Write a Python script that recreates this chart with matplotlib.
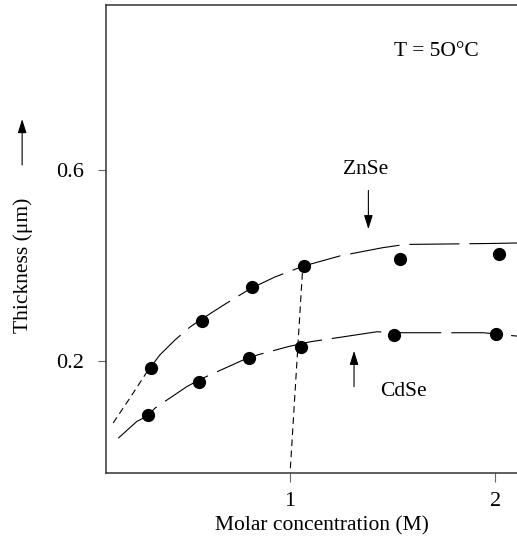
import matplotlib

matplotlib.use("Agg")
matplotlib.rc("font", family="Liberation Serif")
import matplotlib.pyplot as plt


# measured points
znse_x = [0.322, 0.572, 0.813, 1.07, 1.537, 2.018]
znse_y = [0.185, 0.284, 0.354, 0.398, 0.414, 0.423]
cdse_x = [0.306, 0.557, 0.801, 1.055, 1.507, 2.005]
cdse_y = [0.086, 0.155, 0.207, 0.230, 0.254, 0.256]

# guide curves
znse_fit_x = [0.137, 0.220, 0.302, 0.366, 0.439, 0.512, 0.585, 0.683, 0.805,
              0.927, 1.068, 1.244, 1.449, 1.561, 1.780, 1.976, 2.107]
znse_fit_y = [0.070, 0.123, 0.177, 0.213, 0.244, 0.271, 0.292, 0.319, 0.351,
              0.376, 0.399, 0.420, 0.437, 0.444, 0.445, 0.446, 0.447]
znse_dotted_end = 3  # first part is drawn with short dashes

cdse_fit_x = [0.162, 0.252, 0.306, 0.341, 0.496, 0.556, 0.601, 0.772, 0.845,
              0.992, 1.098, 1.423, 1.553, 1.943, 2.081, 2.107]
cdse_fit_y = [0.038, 0.073, 0.085, 0.101, 0.146, 0.160, 0.169, 0.202, 0.213,
              0.230, 0.240, 0.261, 0.259, 0.259, 0.253, 0.252]

# slanted drop line from the ZnSe point near 1 M
drop_x = [1.060, 1.0]
drop_y = [0.384, -0.035]

fig = plt.figure(figsize=(5.17, 5.40), dpi=100)
ax = fig.add_axes([0.205, 0.124, 0.795, 0.867])

long_dash = (0, (45, 9))
short_dash = (0, (6, 4))

ax.plot(znse_fit_x[:znse_dotted_end], znse_fit_y[:znse_dotted_end],
        color="black", lw=0.8, linestyle=short_dash)
ax.plot(znse_fit_x[znse_dotted_end - 1:], znse_fit_y[znse_dotted_end - 1:],
        color="black", lw=0.8, linestyle=long_dash)
ax.plot(cdse_fit_x, cdse_fit_y, color="black", lw=0.8, linestyle=long_dash)
ax.plot(drop_x, drop_y, color="black", lw=0.8, linestyle=short_dash)

ax.plot(znse_x, znse_y, "o", color="black", ms=8.5, zorder=5)
ax.plot(cdse_x, cdse_y, "o", color="black", ms=8.5, zorder=5)

ax.set_xlim(0.102, 2.107)
ax.set_ylim(-0.035, 0.946)
ax.set_xticks([1, 2])
ax.set_xticklabels(["1", "2"])
ax.set_yticks([0.2, 0.6])
ax.set_yticklabels(["0.2", "0.6"])
ax.tick_params(axis="x", direction="out", length=6.5, width=0.8,
               color="0.4", labelsize=16, pad=7)
ax.tick_params(axis="y", direction="out", length=5.5, width=0.8,
               color="0.4", labelsize=16, pad=10)
ax.spines["right"].set_visible(False)
for side in ["left", "bottom", "top"]:
    ax.spines[side].set_linewidth(1.1)
    ax.spines[side].set_color("0.2")

ax.set_xlabel("Molar concentration (M)", fontsize=15.5)
ax.xaxis.set_label_coords(0.525, -0.113)
ax.xaxis.label.set_va("center")
ax.set_ylabel("Thickness (μm)", fontsize=15.5)
ax.yaxis.set_label_coords(-0.202, 0.444)
ax.yaxis.label.set_va("center")

arrow_style = dict(arrowstyle="-|>,head_length=0.7,head_width=0.22", lw=0.8,
                   color="black", mutation_scale=12, shrinkA=0, shrinkB=0)

# arrow next to the y label
ax.annotate("", xy=(-0.204, 0.756), xytext=(-0.204, 0.658),
            xycoords="axes fraction", textcoords="axes fraction",
            arrowprops=arrow_style, annotation_clip=False)

ax.text(1.371, 0.600, "ZnSe", fontsize=15.5, ha="center", va="center")
ax.annotate("", xy=(1.382, 0.476), xytext=(1.382, 0.557),
            arrowprops=arrow_style)
ax.text(1.553, 0.136, "CdSe", fontsize=15.5, ha="center", va="center")
ax.annotate("", xy=(1.312, 0.221), xytext=(1.312, 0.146),
            arrowprops=arrow_style)
ax.text(1.716, 0.848, "T = 5O°C", fontsize=15.5, ha="center", va="center")

fig.savefig("out.png", dpi=100)
